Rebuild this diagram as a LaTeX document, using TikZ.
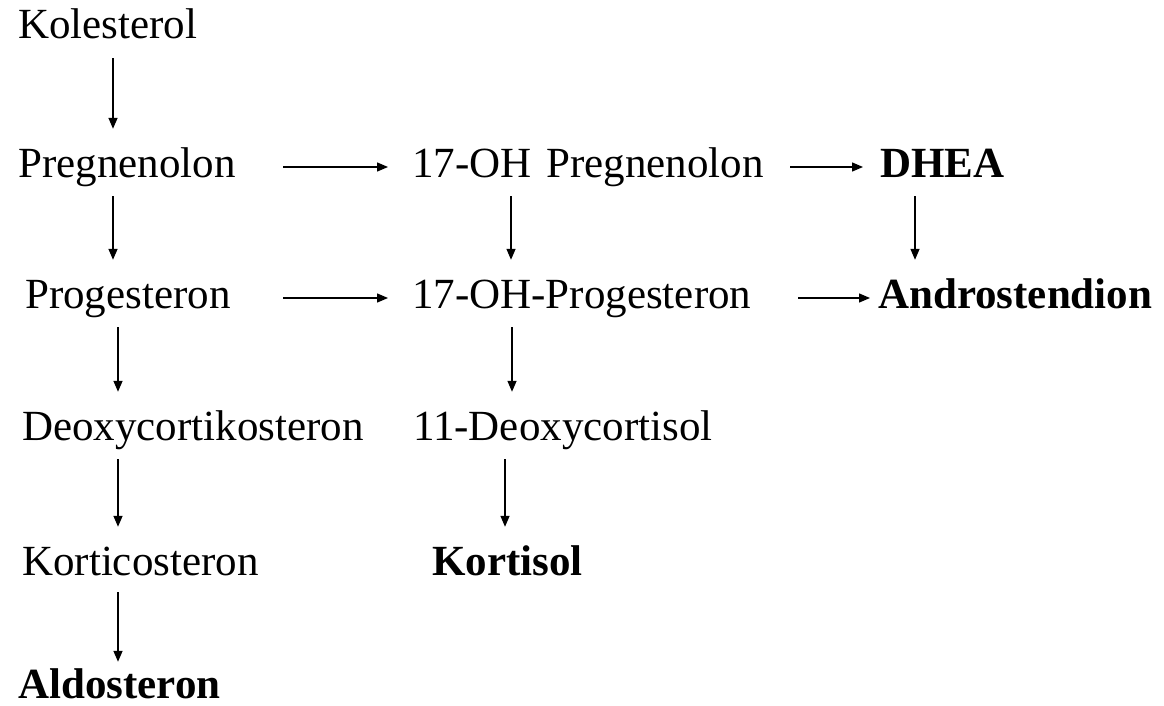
\documentclass[tikz,border=0pt]{standalone}
\usepackage{fontspec}
\setmainfont{Liberation Serif}
\usetikzlibrary{arrows.meta}
\begin{document}
\begin{tikzpicture}[x=1pt,y=1pt,
  lbl/.style={anchor=base west,inner sep=0pt,text height=30pt,text depth=10pt,font=\fontsize{43}{50}\selectfont},
  blbl/.style={lbl,font=\fontsize{43}{50}\selectfont\bfseries},
  arr/.style={line width=1.4pt,-{Triangle[length=11pt,width=9pt]}},
  varr/.style={arr,shorten <=9pt,shorten >=18pt}]
\useasboundingbox (0,0) rectangle (1164,-706);
% left column
\node[lbl]  (kol)    at (18,-39)  {Kolesterol};
\node[lbl]  (preg)   at (18,-177) {Pregnenolon};
\node[lbl]  (prog)   at (25,-308) {Progesteron};
\node[lbl]  (deoxy)  at (22,-440) {Deoxycortikosteron};
\node[lbl]  (kortic) at (22,-575) {Korticosteron};
\node[blbl,text depth=1pt] (aldo) at (18,-698) {Aldosteron};
% middle column
\node[lbl]  (ohpreg) at (412,-177) {17-OH\hspace{15pt}Pregnenolon};
\node[lbl]  (ohprog) at (412,-308) {17-OH-Progesteron};
\node[lbl]  (dcort)  at (413,-440) {11-Deoxycortisol};
\node[blbl] (kort)   at (432,-575) {Kortisol};
% right column
\node[blbl] (dhea)   at (880,-177) {DHEA};
\node[blbl] (andro)  at (878,-308) {Androstendion};
% vertical arrows
\draw[varr] (113,0 |- kol.south)    -- (113,0 |- preg.north);
\draw[varr] (113,0 |- preg.south)   -- (113,0 |- prog.north);
\draw[varr] (118,0 |- prog.south)   -- (118,0 |- deoxy.north);
\draw[varr] (118,0 |- deoxy.south)  -- (118,0 |- kortic.north);
\draw[varr,shorten <=7pt,shorten >=6pt] (118,0 |- kortic.south) -- (118,0 |- aldo.north);
\draw[varr] (511,0 |- ohpreg.south) -- (511,0 |- ohprog.north);
\draw[varr] (512,0 |- ohprog.south) -- (512,0 |- dcort.north);
\draw[varr] (505,0 |- dcort.south)  -- (505,0 |- kort.north);
\draw[varr] (915,0 |- dhea.south)   -- (915,0 |- andro.north);
% horizontal arrows
\draw[arr] (283,0 |- preg.east)   -- (388,0 |- ohpreg.west);
\draw[arr] (283,0 |- prog.east)   -- (388,0 |- ohprog.west);
\draw[arr] (790,0 |- ohpreg.east) -- (863,0 |- dhea.west);
\draw[arr] (798,0 |- ohprog.east) -- (870,0 |- andro.west);
\end{tikzpicture}
\end{document}
